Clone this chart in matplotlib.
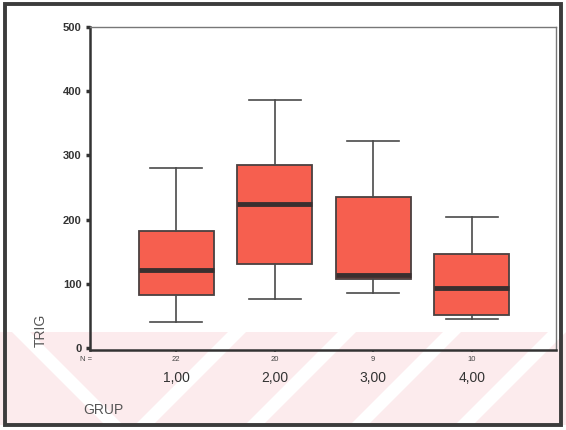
import matplotlib
matplotlib.use("Agg")
import matplotlib.pyplot as plt
from matplotlib.patches import Rectangle, Polygon

# ---- data ----
groups = ["1,00", "2,00", "3,00", "4,00"]
counts = ["22", "20", "9", "10"]
whisker_low = [41, 77, 85, 45]
q1 = [82, 131, 108, 51]
median = [122, 225, 114, 94]
q3 = [182, 285, 236, 146]
whisker_high = [280, 386, 322, 204]
yticks = [0, 100, 200, 300, 400, 500]

W, H = 566, 430
fig = plt.figure(figsize=(W / 100, H / 100), dpi=100)
fig.patch.set_facecolor("white")

def fy(y):
    return 1 - y / H
def fx(x):
    return x / W

# faint pink watermark band at the bottom of the scan
band_top, band_bot = 332, 425
fig.add_artist(Rectangle((0, fy(band_bot)), 1, fy(band_top) - fy(band_bot),
                         transform=fig.transFigure, facecolor="#fcebed",
                         edgecolor="none", zorder=0))
hgt = band_bot - band_top
sw = 18
for xt in [228, 338, 443, 548]:
    pts = [(fx(xt), fy(band_top)), (fx(xt + sw), fy(band_top)),
           (fx(xt + sw - hgt), fy(band_bot)), (fx(xt - hgt), fy(band_bot))]
    fig.add_artist(Polygon(pts, closed=True, transform=fig.transFigure,
                           facecolor="white", edgecolor="none", zorder=0.5))
pts = [(fx(12), fy(band_top)), (fx(12 + sw), fy(band_top)),
       (fx(12 + sw + hgt), fy(band_bot)), (fx(12 + hgt), fy(band_bot))]
fig.add_artist(Polygon(pts, closed=True, transform=fig.transFigure,
                       facecolor="white", edgecolor="none", zorder=0.5))

# outer frame
fig.add_artist(Rectangle((fx(5), fy(425)), fx(561) - fx(5), fy(4) - fy(425),
                         transform=fig.transFigure, facecolor="none",
                         edgecolor="#3c3c3c", linewidth=2.8, zorder=10))

ax = fig.add_axes([90 / W, 1 - 350 / H, (556 - 90) / W, (350 - 27) / H])
ax.set_facecolor("none")
ax.set_zorder(2)

positions = [1, 2, 3, 4]
stats = []
for i in range(4):
    stats.append(dict(med=median[i], q1=q1[i], q3=q3[i],
                      whislo=whisker_low[i], whishi=whisker_high[i], fliers=[]))

ax.bxp(stats, positions=positions, widths=0.76, patch_artist=True,
       showfliers=False,
       boxprops=dict(facecolor="#f65f4f", edgecolor="#4a4040", linewidth=1.3),
       medianprops=dict(color="#3a2f2f", linewidth=3.5),
       whiskerprops=dict(color="#4a4a4a", linewidth=1.2),
       capprops=dict(color="#4a4a4a", linewidth=1.2),
       capwidths=0.53)

ax.set_xlim(0.125, 4.855)
ax.set_ylim(-3, 500)

for s in ["left", "bottom"]:
    ax.spines[s].set_color("#333333")
    ax.spines[s].set_linewidth(1.8)
for s in ["top", "right"]:
    ax.spines[s].set_color("#777777")
    ax.spines[s].set_linewidth(1.0)

ax.set_yticks(yticks)
ax.set_yticklabels([str(v) for v in yticks], fontsize=8, fontweight="bold",
                   color="#333333", family="Liberation Sans")
ax.tick_params(axis="y", length=3, width=2.5, color="#333333", pad=3)

ax.set_xticks(positions)
ax.set_xticklabels([])
ax.tick_params(axis="x", length=1.5, width=1.5, color="#666666")

# N = counts and group labels
for p, c, g in zip(positions, counts, groups):
    ax.text(p, -13, c, ha="center", va="top", fontsize=5.5, color="#444444",
            family="Liberation Sans")
    ax.text(p, -36, g, ha="center", va="top", fontsize=10, color="#333333",
            family="Liberation Sans")
ax.text(0.08, -13, "N =", ha="center", va="top", fontsize=5.5, color="#444444",
        family="Liberation Sans")

fig.text(fx(41), fy(330), "TRIG", rotation=90, ha="center", va="center",
         fontsize=10, color="#555555", family="Liberation Sans")
fig.text(fx(83), fy(410), "GRUP", ha="left", va="center",
         fontsize=10, color="#555555", family="Liberation Sans", zorder=3)

fig.savefig("out.png", dpi=100)
